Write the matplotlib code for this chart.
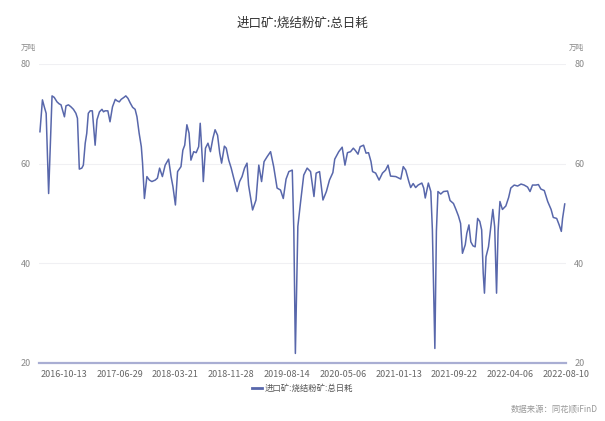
import matplotlib
matplotlib.use('Agg')
import matplotlib.pyplot as plt
from matplotlib.lines import Line2D

plt.rcParams['font.family'] = ['Noto Sans CJK SC', 'DejaVu Sans']

pos = [0.3, 1.1, 1.7, 2.3, 3.1, 4.2, 4.9, 5.8, 6.5, 7.1, 7.9, 8.2, 8.7, 9.5, 10.3,
       11.1, 11.9, 12.4, 13.0, 13.8, 14.3, 14.9, 15.4, 15.9, 16.5, 17.2, 17.7, 18.1,
       18.7, 19.5, 20.3, 20.8, 21.3, 22.2, 22.9, 23.7, 24.6, 25.2, 25.9, 26.5, 27.4,
       28.0, 28.7, 29.4, 30.2, 31.0, 31.6, 32.3, 33.0, 33.4, 34.0, 34.8, 35.6, 36.4,
       37.5, 38.2, 38.9, 39.8, 40.7, 41.8, 42.6, 43.2, 44.0, 44.7, 45.8, 46.4, 47.0,
       47.7, 48.4, 49.0, 49.9, 50.7, 51.5, 52.0, 52.7, 53.0, 53.7, 54.5, 55.3, 56.1,
       56.8, 57.6, 58.3, 58.9, 59.8, 60.4, 61.2, 62.0, 62.8, 63.9, 64.7, 65.5, 66.3,
       67.1, 67.6, 68.9, 70.0, 70.9, 71.8, 72.6, 73.6, 74.7, 75.7, 76.8, 77.9, 78.8,
       79.7, 80.6, 81.7, 82.2, 82.7, 83.5, 84.4, 85.4, 86.5, 87.6, 88.7, 89.4, 90.5,
       91.6, 92.7, 93.7, 94.8, 95.4, 96.7, 97.8, 98.7, 99.5, 100.5, 101.4, 102.1,
       102.9, 103.6, 104.7, 105.5, 106.3, 107.1, 107.6, 108.6, 109.7, 110.8, 111.8,
       112.6, 113.4, 115.1, 116.7, 117.5, 118.3, 119.3, 119.9, 120.7, 121.5, 122.3,
       123.5, 124.1, 124.6, 125.6, 126.4, 126.9, 127.7, 128.2, 128.7, 129.6, 130.5,
       131.8, 132.6, 133.7, 134.5, 135.3, 136.0, 136.6, 137.5, 138.0, 138.7, 139.3,
       140.0, 140.7, 141.5, 142.2, 142.8, 143.3, 143.7, 144.2, 145.0, 145.7, 146.4,
       147.0, 147.6, 148.1, 148.7, 149.5, 150.6, 151.5, 152.2, 153.3, 154.4, 155.5,
       156.5, 157.6, 158.4, 159.2, 160.3, 161.1, 161.9, 163.0, 164.1, 165.2, 165.9,
       167.0, 167.8, 168.5, 168.9, 169.6]
vals = [66.4, 72.8, 71.4, 70.1, 54.0, 73.6, 73.3, 72.4, 72.0, 71.8, 70.1, 69.4, 71.6,
        71.8, 71.4, 70.9, 70.1, 69.1, 58.9, 59.1, 59.7, 64.1, 66.1, 70.1, 70.6, 70.6,
        66.8, 63.7, 68.8, 70.4, 70.9, 70.4, 70.6, 70.6, 68.4, 71.4, 72.9, 72.6, 72.4,
        72.9, 73.3, 73.6, 73.1, 72.2, 71.3, 70.9, 69.4, 66.1, 63.4, 60.1, 53.0, 57.4,
        56.7, 56.4, 56.7, 57.1, 59.1, 57.4, 59.7, 60.9, 57.4, 55.4, 51.7, 58.4, 59.4,
        62.7, 63.7, 67.8, 66.1, 60.7, 62.4, 62.2, 63.4, 68.1, 60.7, 56.4, 63.1, 64.1,
        62.4, 65.1, 66.8, 65.7, 62.1, 60.1, 63.5, 63.1, 60.7, 59.1, 57.1, 54.4, 56.4,
        57.4, 59.1, 60.1, 55.7, 50.7, 52.7, 59.7, 56.4, 60.4, 61.4, 62.4, 59.4, 55.1,
        54.7, 53.0, 56.9, 58.4, 58.7, 46.7, 21.9, 47.4, 52.4, 57.7, 59.1, 58.4, 53.4,
        58.1, 58.4, 52.7, 54.4, 56.7, 58.2, 60.9, 62.4, 63.3, 59.7, 62.2, 62.4, 63.1,
        62.6, 61.9, 63.4, 63.7, 62.1, 62.2, 60.4, 58.4, 58.1, 56.7, 58.1, 58.7, 59.7,
        57.5, 57.4, 56.9, 59.4, 58.7, 56.4, 55.2, 56.0, 55.2, 55.7, 56.1, 55.1, 53.1,
        56.1, 54.4, 46.7, 22.9, 46.5, 54.4, 53.9, 54.4, 54.5, 52.6, 52.0, 50.8, 49.5,
        48.0, 42.0, 43.7, 46.0, 47.7, 44.3, 43.5, 43.3, 49.0, 48.4, 46.7, 38.0, 34.0,
        41.3, 43.3, 47.0, 50.8, 47.3, 34.0, 46.5, 52.4, 50.8, 51.5, 53.2, 55.1, 55.7,
        55.5, 55.9, 55.7, 55.3, 54.4, 55.7, 55.7, 55.8, 54.9, 54.6, 52.4, 50.8, 49.2,
        49.0, 47.7, 46.4, 49.0, 51.9]

tick_pos = [8, 26, 44, 62, 80, 98, 116, 134, 152, 170]
tick_labels = ['2016-10-13', '2017-06-29', '2018-03-21', '2018-11-28', '2019-08-14',
               '2020-05-06', '2021-01-13', '2021-09-22', '2022-04-06', '2022-08-10']
y_ticks = [20, 40, 60, 80]

series_name = '进口矿:烧结粉矿:总日耗'
line_color = '#5867ab'

fig = plt.figure(figsize=(6.05, 4.21), dpi=100)
ax = fig.add_axes([0.0645, 0.138, 0.871, 0.71])

ax.plot(pos, vals, color=line_color, lw=1.1, solid_joinstyle='round')

ax.set_xlim(0, 170)
ax.set_ylim(20, 80)
ax.set_yticks(y_ticks)
ax.set_xticks(tick_pos)
ax.set_xticklabels(tick_labels)

ax.grid(axis='y', color='#f0f0f3', lw=0.8)
ax.set_axisbelow(True)
for s in ['top', 'left', 'right']:
    ax.spines[s].set_visible(False)
ax.spines['bottom'].set_color('#a9aed3')
ax.spines['bottom'].set_linewidth(1.6)

ax.tick_params(axis='y', length=0, labelsize=6.5, labelcolor='#888888',
               labelleft=True, labelright=True, pad=6)
ax.tick_params(axis='x', length=0, labelsize=6.5, labelcolor='#666666', pad=5)

ax.text(-0.005, 1.04, '万吨', transform=ax.transAxes, fontsize=5.5,
        color='#888888', ha='right', va='bottom')
ax.text(1.005, 1.04, '万吨', transform=ax.transAxes, fontsize=5.5,
        color='#888888', ha='left', va='bottom')

fig.text(0.5, 0.945, series_name, ha='center', va='center', fontsize=9,
         color='#333333')

handle = Line2D([], [], color=line_color, lw=2)
fig.legend([handle], [series_name], loc='center', bbox_to_anchor=(0.5, 0.077),
           frameon=False, fontsize=6, handlelength=1.2, handletextpad=0.4,
           labelcolor='#555555')

fig.text(0.988, 0.018, '数据来源：同花顺iFinD', ha='right', va='bottom',
         fontsize=6, color='#999999')

fig.savefig('out.png', dpi=100)
